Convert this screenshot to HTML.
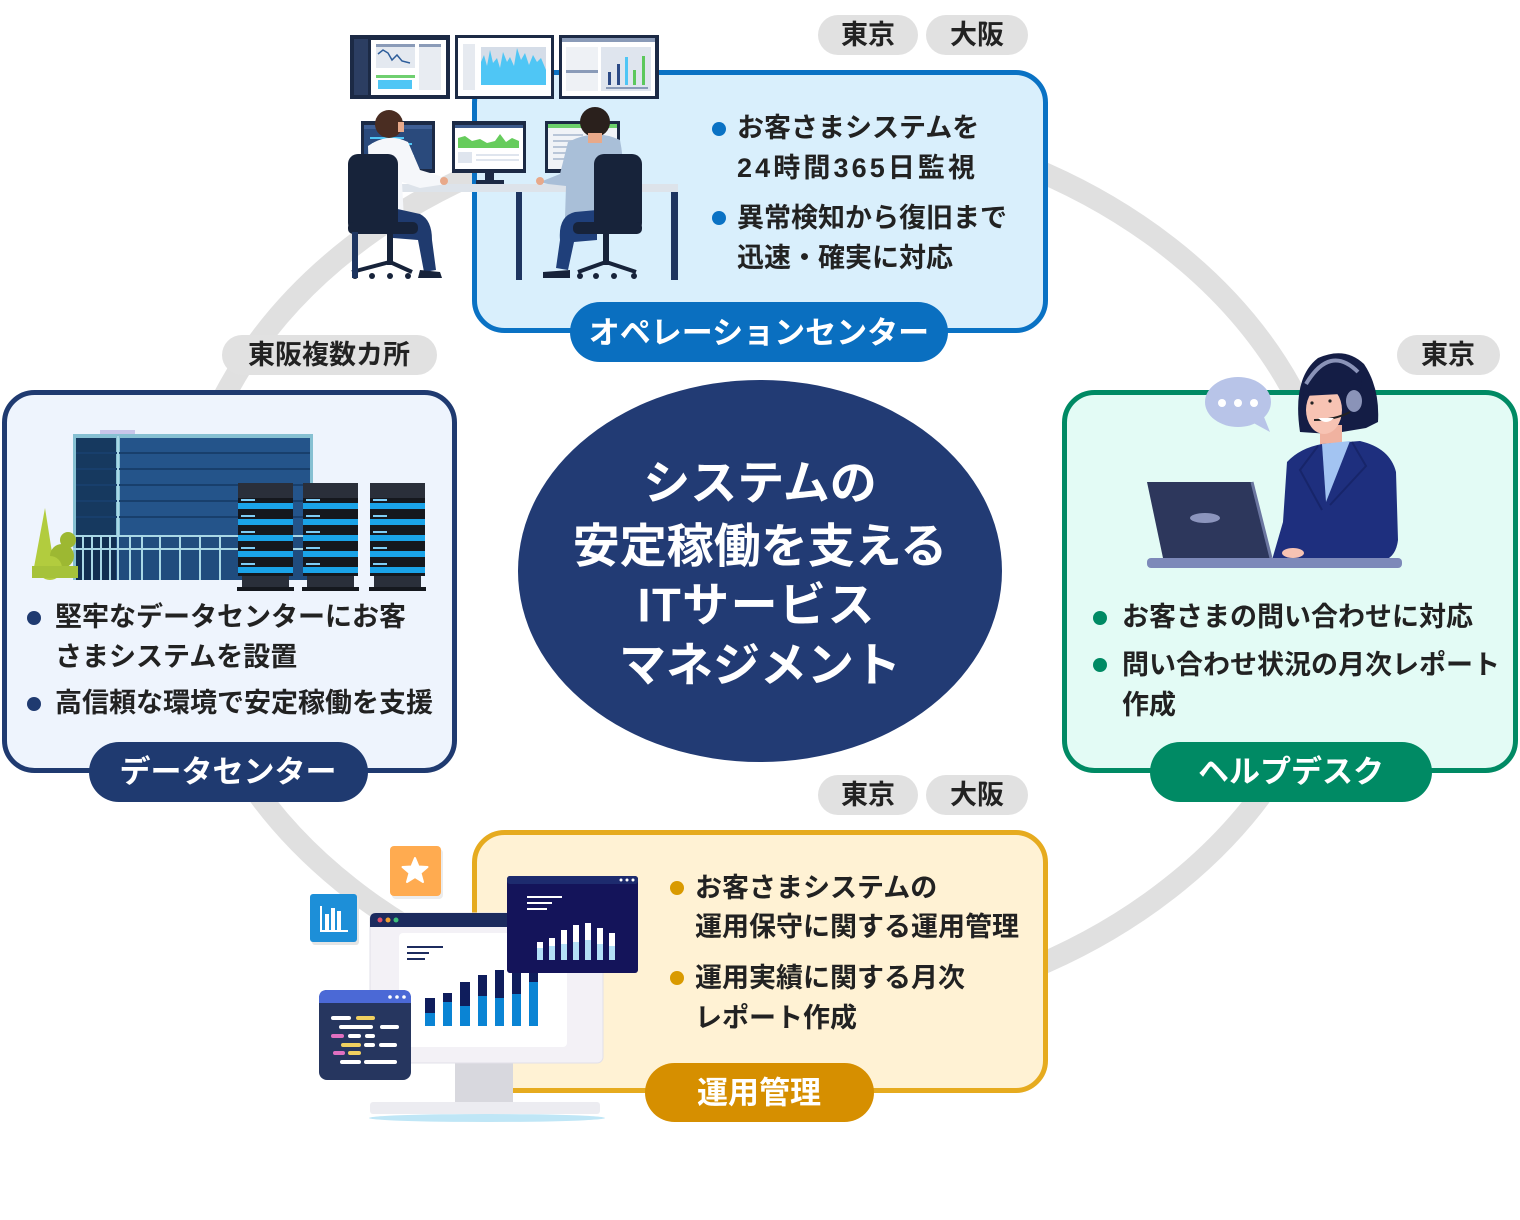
<!DOCTYPE html>
<html><head><meta charset="utf-8">
<style>
html,body{margin:0;padding:0;background:#fff;}
svg{display:block;}
text{font-family:"Liberation Sans","Noto Sans CJK JP",sans-serif;font-weight:700;}
</style></head><body>
<svg width="1520" height="1220" viewBox="0 0 1520 1220" xmlns="http://www.w3.org/2000/svg">
<rect width="1520" height="1220" fill="#fff"/>
<ellipse cx="760" cy="568" rx="579" ry="453" fill="none" stroke="#e0e0e0" stroke-width="22"/>

<!-- boxes -->
<rect x="474.5" y="72.5" width="571" height="258" rx="30" fill="#d9effc" stroke="#0a72c4" stroke-width="5"/>
<rect x="4.5" y="392.5" width="450" height="378" rx="30" fill="#eef4fd" stroke="#1f3a70" stroke-width="5"/>
<rect x="1064.5" y="392.5" width="451" height="378" rx="30" fill="#e3fbf5" stroke="#008a64" stroke-width="5"/>
<rect x="474.5" y="832.5" width="571" height="258" rx="30" fill="#fff2d4" stroke="#e6ab1f" stroke-width="5"/>

<!-- tags -->
<g fill="#e1e1e1">
<rect x="818" y="15" width="100" height="40" rx="20"/>
<rect x="926" y="15" width="102" height="40" rx="20"/>
<rect x="222" y="335" width="215" height="40" rx="20"/>
<rect x="1397" y="335" width="103" height="40" rx="20"/>
<rect x="818" y="775" width="100" height="40" rx="20"/>
<rect x="926" y="775" width="102" height="40" rx="20"/>
</g>
<g font-size="27" fill="#222" text-anchor="middle" dominant-baseline="central">
<text x="868" y="35">東京</text>
<text x="977" y="35">大阪</text>
<text x="329" y="355">東阪複数カ所</text>
<text x="1448" y="355">東京</text>
<text x="868" y="795">東京</text>
<text x="977" y="795">大阪</text>
</g>

<!-- center -->
<ellipse cx="760" cy="571" rx="242" ry="191" fill="#223b74"/>
<g font-size="47" fill="#fff" text-anchor="middle" dominant-baseline="central">
<text x="760" y="483">システムの</text>
<text x="760" y="546">安定稼働を支える</text>
<text x="756" y="605" textLength="237">ITサービス</text>
<text x="760" y="665">マネジメント</text>
</g>

<!-- body texts -->
<g font-size="27" fill="#222" dominant-baseline="central">
<text x="737" y="128">お客さまシステムを</text>
<text x="737" y="168" textLength="238">24時間365日監視</text>
<text x="737" y="218">異常検知から復旧まで</text>
<text x="737" y="258">迅速・確実に対応</text>

<text x="55" y="617">堅牢なデータセンターにお客</text>
<text x="55" y="657">さまシステムを設置</text>
<text x="55" y="703">高信頼な環境で安定稼働を支援</text>

<text x="1122" y="617">お客さまの問い合わせに対応</text>
<text x="1122" y="665">問い合わせ状況の月次レポート</text>
<text x="1122" y="705">作成</text>

<text x="695" y="888">お客さまシステムの</text>
<text x="695" y="927">運用保守に関する運用管理</text>
<text x="695" y="978">運用実績に関する月次</text>
<text x="695" y="1018">レポート作成</text>
</g>
<g>
<circle cx="719" cy="129" r="7" fill="#0a72c4"/>
<circle cx="719" cy="218" r="7" fill="#0a72c4"/>
<circle cx="34" cy="618" r="7" fill="#1f3a70"/>
<circle cx="34" cy="704" r="7" fill="#1f3a70"/>
<circle cx="1100" cy="618" r="7" fill="#008a64"/>
<circle cx="1100" cy="665" r="7" fill="#008a64"/>
<circle cx="677" cy="888" r="7" fill="#d99a00"/>
<circle cx="677" cy="978" r="7" fill="#d99a00"/>
</g>

<!-- pills -->
<rect x="570" y="302" width="378" height="60" rx="30" fill="#0a6fc0"/>
<rect x="89" y="742" width="279" height="60" rx="30" fill="#1f3a70"/>
<rect x="1150" y="742" width="282" height="60" rx="30" fill="#008a64"/>
<rect x="645" y="1063" width="229" height="59" rx="29.5" fill="#d68f00"/>
<g font-size="31" fill="#fff" text-anchor="middle" dominant-baseline="central">
<text x="759" y="333">オペレーションセンター</text>
<text x="228" y="772">データセンター</text>
<text x="1291" y="772">ヘルプデスク</text>
<text x="759" y="1093">運用管理</text>
</g>

<!-- ===== Operation center illustration ===== -->
<g>
<rect x="350" y="35" width="100" height="64" fill="#1c2a45"/>
<rect x="354" y="39" width="14" height="56" fill="#2c3e62"/>
<rect x="371" y="40" width="75" height="55" fill="#fff"/>
<rect x="376" y="44" width="39" height="24" fill="#e4e9f0"/>
<rect x="376" y="44" width="39" height="3" fill="#8a9bb8"/>
<polyline points="378,54 383,50 388,53 392,60 397,55 402,61 410,63" stroke="#2d5d9a" stroke-width="1.5" fill="none"/>
<rect x="376" y="75" width="39" height="3" fill="#6fcf6f"/>
<rect x="378" y="80" width="34" height="9" fill="#4fc6f5"/>
<rect x="419" y="44" width="22" height="46" fill="#e8ecf2"/>
<rect x="419" y="44" width="22" height="3" fill="#8a9bb8"/>

<rect x="455" y="35" width="99" height="64" fill="#1c2a45"/>
<rect x="458" y="38" width="93" height="58" fill="#fff"/>
<rect x="463" y="44" width="12" height="46" fill="#e6eaf0"/>
<rect x="481" y="47" width="65" height="38" fill="#d5dde8"/>
<path d="M481,85 L481,62 L484,55 L487,66 L490,50 L493,63 L497,58 L500,68 L503,52 L507,62 L510,57 L514,66 L517,48 L521,60 L525,53 L529,65 L533,55 L537,62 L541,58 L546,70 L546,85 Z" fill="#4fc6f5"/>

<rect x="559" y="35" width="100" height="64" fill="#1c2a45"/>
<rect x="562" y="38" width="93" height="58" fill="#fff"/>
<rect x="562" y="38" width="93" height="4" fill="#8a9bb8"/>
<rect x="566" y="47" width="32" height="44" fill="#eef1f5"/>
<rect x="566" y="70" width="32" height="3" fill="#8a9bb8"/>
<rect x="601" y="47" width="50" height="44" fill="#dfe5ee"/>
<rect x="608" y="72" width="3" height="13" fill="#2c4a86"/>
<rect x="617" y="64" width="3" height="21" fill="#2c4a86"/>
<rect x="625" y="57" width="3" height="28" fill="#4fc6f5"/>
<rect x="633" y="70" width="3" height="15" fill="#5cc85c"/>
<rect x="642" y="56" width="3" height="29" fill="#5cc85c"/>
<rect x="606" y="87" width="42" height="2" fill="#8a9bb8"/>

<!-- desk monitors -->
<rect x="361" y="121" width="74" height="52" fill="#1c2a45"/>
<rect x="364" y="125" width="68" height="44" fill="#2a4a7c"/>
<rect x="364" y="125" width="68" height="4" fill="#3f5f95"/>
<g fill="#4fc6f5"><rect x="370" y="137" width="34" height="2"/><rect x="372" y="143" width="40" height="2"/><rect x="376" y="149" width="34" height="2"/><rect x="372" y="155" width="42" height="2"/><rect x="380" y="161" width="30" height="2"/></g>

<rect x="452" y="121" width="74" height="52" fill="#1c2a45"/>
<rect x="455" y="125" width="68" height="44" fill="#fff"/>
<rect x="455" y="125" width="68" height="3" fill="#3c5a8c"/>
<path d="M458,148 L458,138 L465,136 L472,141 L480,139 L487,143 L495,141 L500,134 L506,142 L512,138 L519,141 L519,148 Z" fill="#66cc5c"/>
<rect x="458" y="152" width="14" height="11" fill="#dfe5ee"/>
<rect x="476" y="154" width="43" height="2" fill="#dfe5ee"/>
<rect x="476" y="159" width="43" height="2" fill="#dfe5ee"/>
<rect x="485" y="173" width="9" height="8" fill="#1c2a45"/>
<rect x="476" y="180" width="28" height="4" fill="#1c2a45"/>

<rect x="545" y="121" width="75" height="52" fill="#1c2a45"/>
<rect x="548" y="124" width="69" height="45" fill="#f0f3f7"/>
<rect x="548" y="124" width="69" height="4" fill="#6cd06c"/>
<g fill="#b9c6d8"><rect x="553" y="134" width="30" height="2"/><rect x="553" y="140" width="24" height="2"/><rect x="553" y="146" width="28" height="2"/><rect x="553" y="152" width="22" height="2"/><rect x="553" y="158" width="26" height="2"/></g>

<!-- desk -->
<rect x="348" y="184" width="330" height="8" fill="#dde3ea"/>
<rect x="516" y="192" width="6" height="88" fill="#1e3560"/>
<rect x="671" y="192" width="7" height="88" fill="#1e3560"/>

<!-- left person -->
<path d="M368,146 Q388,132 408,142 L420,170 L440,176 L446,184 L420,188 L402,182 L404,220 L370,222 Z" fill="#f5f7fa"/>
<circle cx="444" cy="181" r="4" fill="#e8a98a"/>
<path d="M393,208 L420,214 Q432,220 432,240 L436,270 L424,272 L418,240 L393,238 Z" fill="#1f3a6e"/>
<path d="M420,270 L440,272 L442,278 L418,278 Z" fill="#17233a"/>
<circle cx="389" cy="124" r="14" fill="#4a2d22"/>
<rect x="398" y="122" width="6" height="10" fill="#e8a98a"/>
<rect x="348" y="154" width="50" height="79" rx="10" fill="#17233a"/>
<rect x="348" y="222" width="70" height="12" rx="5" fill="#17233a"/>
<rect x="387" y="233" width="6" height="32" fill="#17233a"/>
<path d="M352,272 L390,262 L412,272" stroke="#17233a" stroke-width="4" fill="none"/>
<g fill="#17233a"><circle cx="355" cy="276" r="3"/><circle cx="372" cy="276" r="3"/><circle cx="390" cy="276" r="3"/><circle cx="408" cy="276" r="3"/></g>
<rect x="352" y="232" width="6" height="46" fill="#1e3560"/>

<!-- right person -->
<path d="M568,142 Q595,128 620,140 Q626,170 622,218 L565,218 L566,186 L548,184 L540,182 L560,174 Z" fill="#a9bfd8"/>
<circle cx="540" cy="181" r="4" fill="#e8a98a"/>
<path d="M597,210 L575,212 Q558,216 560,240 L556,268 L568,270 L574,242 L597,240 Z" fill="#1f3f7a"/>
<path d="M543,272 L570,270 L570,278 L543,278 Z" fill="#17233a"/>
<circle cx="595" cy="122" r="15" fill="#2a201c"/>
<rect x="588" y="133" width="14" height="10" fill="#e8a98a"/>
<rect x="594" y="154" width="48" height="79" rx="10" fill="#17233a"/>
<rect x="573" y="222" width="69" height="12" rx="5" fill="#17233a"/>
<rect x="603" y="233" width="6" height="32" fill="#17233a"/>
<path d="M578,272 L606,262 L636,272" stroke="#17233a" stroke-width="4" fill="none"/>
<g fill="#17233a"><circle cx="580" cy="276" r="3"/><circle cx="596" cy="276" r="3"/><circle cx="614" cy="276" r="3"/><circle cx="634" cy="276" r="3"/></g>
</g>

<!-- ===== Data center illustration ===== -->
<g>
<rect x="100" y="430" width="35" height="6" fill="#c9c6ea"/>
<rect x="73" y="434" width="240" height="146" fill="#86c0d2"/>
<rect x="76" y="438" width="40" height="98" fill="#16395f"/>
<rect x="120" y="438" width="190" height="98" fill="#24548a"/>
<g stroke="#183f6c" stroke-width="2">
<line x1="76" y1="453" x2="310" y2="453"/><line x1="76" y1="469" x2="310" y2="469"/><line x1="76" y1="485" x2="310" y2="485"/><line x1="76" y1="501" x2="310" y2="501"/><line x1="76" y1="517" x2="310" y2="517"/>
</g>
<rect x="76" y="537" width="234" height="43" fill="#204c7e"/>
<rect x="76" y="537" width="40" height="43" fill="#112f52"/>
<g stroke="#a9d8e6" stroke-width="2">
<line x1="73" y1="536" x2="313" y2="536"/><line x1="73" y1="549" x2="313" y2="549"/>
<line x1="83" y1="536" x2="83" y2="580"/><line x1="92" y1="536" x2="92" y2="580"/><line x1="101" y1="536" x2="101" y2="580"/><line x1="110" y1="536" x2="110" y2="580"/><line x1="118" y1="436" x2="118" y2="580"/>
<line x1="130" y1="536" x2="130" y2="580"/><line x1="142" y1="536" x2="142" y2="580"/><line x1="160" y1="536" x2="160" y2="580"/><line x1="180" y1="536" x2="180" y2="580"/><line x1="200" y1="536" x2="200" y2="580"/><line x1="220" y1="536" x2="220" y2="580"/>
</g>
<path d="M45,508 L56,578 L32,578 Z" fill="#b2cc3e"/>
<circle cx="68" cy="540" r="8" fill="#9db832"/>
<circle cx="62" cy="556" r="12" fill="#9db832"/>
<circle cx="50" cy="568" r="12" fill="#b2cc3e"/>
<rect x="32" y="566" width="46" height="12" fill="#a6c23a"/>

<g id="rack">
<rect x="238" y="483" width="55" height="15" fill="#2a2f3a"/>
<rect x="238" y="498" width="55" height="78" fill="#15181e"/>
<g fill="#1aa3e8"><rect x="238" y="503" width="55" height="6"/><rect x="238" y="519" width="55" height="6"/><rect x="238" y="535" width="55" height="6"/><rect x="238" y="551" width="55" height="6"/><rect x="238" y="567" width="55" height="6"/></g>
<g fill="#7fcdf5"><rect x="241" y="499" width="14" height="2"/><rect x="241" y="515" width="14" height="2"/><rect x="241" y="531" width="14" height="2"/><rect x="241" y="547" width="14" height="2"/><rect x="241" y="563" width="14" height="2"/></g>
<rect x="242" y="576" width="47" height="11" fill="#2a2f3a"/>
<rect x="237" y="587" width="57" height="4" fill="#15181e"/>
</g>
<use href="#rack" x="65"/>
<use href="#rack" x="132"/>
</g>

<!-- ===== Helpdesk woman ===== -->
<g>
<ellipse cx="1238" cy="402" rx="33" ry="25" fill="#b8c4e8"/>
<path d="M1248,420 L1270,432 L1262,412 Z" fill="#b8c4e8"/>
<circle cx="1222" cy="403" r="4" fill="#fff"/><circle cx="1238" cy="403" r="4" fill="#fff"/><circle cx="1254" cy="403" r="4" fill="#fff"/>

<path d="M1300,432 Q1292,378 1318,358 Q1345,346 1364,364 Q1380,388 1378,422 L1366,428 L1330,434 Z" fill="#141d45"/>
<rect x="1320" y="425" width="22" height="26" fill="#f0b2a0"/>
<ellipse cx="1324" cy="410" rx="18" ry="24" fill="#f7c3b3"/>
<path d="M1303,396 Q1305,360 1330,355 Q1356,356 1362,380 L1360,393 L1303,396 Z" fill="#141d45"/>
<path d="M1306,384 Q1330,344 1358,372" stroke="#8a93b8" stroke-width="4" fill="none"/>
<ellipse cx="1354" cy="401" rx="8" ry="11" fill="#8a93b8"/>
<path d="M1350,412 Q1335,420 1314,420" stroke="#222" stroke-width="2" fill="none"/>
<path d="M1318,418 Q1326,426 1334,418 Z" fill="#fff"/>
<circle cx="1312" cy="403" r="1.6" fill="#222"/><circle cx="1330" cy="401" r="1.6" fill="#222"/>

<path d="M1287,462 Q1300,448 1322,444 L1360,441 Q1390,448 1396,472 L1398,540 Q1396,556 1385,560 L1272,560 L1283,522 Z" fill="#1e2f7e"/>
<path d="M1322,444 L1350,441 L1326,502 Z" fill="#a3c4f2"/>
<path d="M1318,446 L1300,470 L1322,510" stroke="#17256a" stroke-width="2" fill="none"/>
<path d="M1352,442 L1366,466 L1330,505" stroke="#17256a" stroke-width="2" fill="none"/>
<ellipse cx="1293" cy="553" rx="11" ry="5" fill="#f7c3b3"/>

<polygon points="1147,482 1252,482 1271,558 1163,558" fill="#2d375c"/>
<line x1="1252" y1="482" x2="1271" y2="558" stroke="#6b76a0" stroke-width="3"/>
<ellipse cx="1205" cy="518" rx="15" ry="5" fill="#8c95bd"/>
<rect x="1147" y="558" width="255" height="10" rx="4" fill="#7d89b9"/>
</g>

<!-- ===== Ops management illustration ===== -->
<g>
<ellipse cx="487" cy="1118" rx="118" ry="4" fill="#bfe6f6"/>
<rect x="455" y="1060" width="58" height="44" fill="#d8d8de"/>
<rect x="370" y="1102" width="230" height="12" rx="3" fill="#ececf1"/>
<rect x="370" y="913" width="233" height="150" rx="6" fill="#f3f1f6" stroke="#e2e0e8" stroke-width="1"/>
<path d="M376,913 L597,913 Q603,913 603,919 L603,927 L370,927 L370,919 Q370,913 376,913 Z" fill="#1c2b5e"/>
<circle cx="380" cy="920" r="2.5" fill="#e04f6a"/><circle cx="388" cy="920" r="2.5" fill="#f0a030"/><circle cx="396" cy="920" r="2.5" fill="#3cc07a"/>
<rect x="399" y="933" width="168" height="114" rx="4" fill="#fff"/>
<g fill="#1c2b5e"><rect x="407" y="946" width="36" height="2"/><rect x="407" y="952" width="22" height="2"/><rect x="407" y="958" width="18" height="2"/></g>
<g fill="#0f1d5c">
<rect x="425" y="998" width="10" height="28"/><rect x="443" y="993" width="9" height="33"/><rect x="460" y="982" width="10" height="44"/><rect x="478" y="975" width="9" height="51"/><rect x="495" y="970" width="9" height="56"/><rect x="512" y="966" width="9" height="60"/><rect x="529" y="966" width="9" height="60"/>
</g>
<g fill="#0a84d4">
<rect x="425" y="1013" width="10" height="13"/><rect x="443" y="1002" width="9" height="24"/><rect x="460" y="1006" width="10" height="20"/><rect x="478" y="996" width="9" height="30"/><rect x="495" y="998" width="9" height="28"/><rect x="512" y="994" width="9" height="32"/><rect x="529" y="982" width="9" height="44"/>
</g>

<rect x="507" y="876" width="131" height="97" rx="3" fill="#14145a"/>
<rect x="507" y="876" width="131" height="8" rx="3" fill="#1d2b6e"/>
<g fill="#fff"><circle cx="621" cy="880" r="1.5"/><circle cx="627" cy="880" r="1.5"/><circle cx="633" cy="880" r="1.5"/>
<rect x="527" y="896" width="35" height="2"/><rect x="527" y="902" width="25" height="2"/><rect x="527" y="908" width="20" height="2"/></g>
<g fill="#ffffff">
<rect x="537" y="942" width="6" height="18"/><rect x="549" y="938" width="6" height="22"/><rect x="561" y="930" width="6" height="30"/><rect x="573" y="925" width="6" height="35"/><rect x="585" y="923" width="6" height="37"/><rect x="597" y="928" width="6" height="32"/><rect x="609" y="933" width="6" height="27"/>
</g>
<g fill="#b3e0f7">
<rect x="537" y="948" width="6" height="12"/><rect x="549" y="946" width="6" height="14"/><rect x="561" y="944" width="6" height="16"/><rect x="573" y="942" width="6" height="18"/><rect x="585" y="940" width="6" height="20"/><rect x="597" y="944" width="6" height="16"/><rect x="609" y="946" width="6" height="14"/>
</g>

<rect x="319" y="990" width="92" height="90" rx="8" fill="#26365f"/>
<path d="M327,990 L403,990 Q411,990 411,998 L411,1003 L319,1003 L319,998 Q319,990 327,990 Z" fill="#4b69d6"/>
<g fill="#fff"><circle cx="390" cy="997" r="1.8"/><circle cx="397" cy="997" r="1.8"/><circle cx="404" cy="997" r="1.8"/></g>
<g stroke-linecap="round" stroke-width="4">
<line x1="333" y1="1018" x2="349" y2="1018" stroke="#fff"/><line x1="358" y1="1018" x2="373" y2="1018" stroke="#f0d060"/>
<line x1="341" y1="1027" x2="371" y2="1027" stroke="#fff"/><line x1="382" y1="1027" x2="397" y2="1027" stroke="#fff"/>
<line x1="333" y1="1036" x2="342" y2="1036" stroke="#e070c0"/><line x1="350" y1="1036" x2="359" y2="1036" stroke="#fff"/><line x1="367" y1="1036" x2="373" y2="1036" stroke="#fff"/>
<line x1="343" y1="1045" x2="359" y2="1045" stroke="#f0d060"/><line x1="366" y1="1045" x2="373" y2="1045" stroke="#fff"/><line x1="381" y1="1045" x2="395" y2="1045" stroke="#fff"/>
<line x1="335" y1="1053" x2="343" y2="1053" stroke="#e070c0"/><line x1="350" y1="1053" x2="359" y2="1053" stroke="#f0d060"/>
<line x1="342" y1="1062" x2="359" y2="1062" stroke="#fff"/><line x1="366" y1="1062" x2="395" y2="1062" stroke="#fff"/>
</g>

<rect x="392" y="849" width="51" height="50" rx="4" fill="#ececec"/>
<rect x="390" y="846" width="51" height="50" rx="4" fill="#ffab50"/>
<path d="M415,858 L418.5,866.5 L427.5,867 L420.5,873 L423,882 L415,877 L407,882 L409.5,873 L402.5,867 L411.5,866.5 Z" fill="#fff" stroke="#fff" stroke-width="2" stroke-linejoin="round"/>
<rect x="312" y="897" width="47" height="48" rx="3" fill="#e4e4e4"/>
<rect x="310" y="894" width="47" height="48" rx="3" fill="#1d8fd8"/>
<g fill="#fff"><rect x="320" y="906" width="2" height="26"/><rect x="320" y="930" width="28" height="2"/><rect x="325" y="914" width="4" height="16"/><rect x="331" y="908" width="4" height="22"/><rect x="337" y="911" width="4" height="19"/></g>
</g>
</svg>
</body></html>
